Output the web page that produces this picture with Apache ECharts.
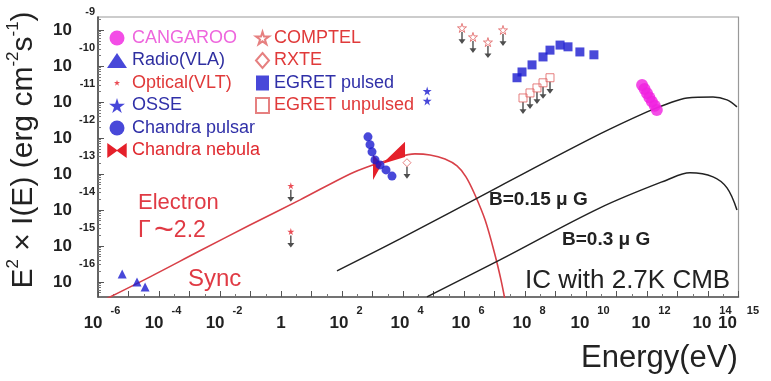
<!DOCTYPE html>
<html>
<head>
<meta charset="utf-8">
<script src="https://cdn.jsdelivr.net/npm/echarts@6/dist/echarts.min.js"></script>
<style>
  html, body { margin: 0; padding: 0; background: #fff; }
  #chart { width: 771px; height: 381px; }
</style>
</head>
<body>
<div id="chart"></div>
<script>
// Photon energy E in eV, flux E^2 x I(E) in erg cm^-2 s^-1
const cangarooE = [6.9e11, 8.3e11, 1.0e12, 1.2e12, 1.45e12, 1.8e12, 2.1e12];
const cangarooF = [2.95e-11, 2.3e-11, 1.74e-11, 1.33e-11, 1.02e-11, 7.8e-12, 6.0e-12];

const radioE = [6.2e-6, 1.9e-5, 3.5e-5];
const radioF = [1.66e-16, 1.0e-16, 7.2e-17];

const opticalE = [2.1, 2.1];
const opticalF = [4.7e-14, 2.5e-15];

const osseE = [6.2e4, 6.2e4];
const osseF = [2.0e-11, 1.07e-11];

const pulsarE = [711, 828, 964, 1208, 1762, 2773, 4355];
const pulsarF = [1.07e-12, 6.5e-13, 4.1e-13, 2.45e-13, 1.78e-13, 1.29e-13, 8.7e-14];

// Chandra nebula power-law bowtie: left edge, pivot, right edge
const nebulaE = [1040, 2040, 11650];
const nebulaUpper = [3.4e-13, 1.9e-13, 7.8e-13];
const nebulaLower = [6.8e-14, 1.9e-13, 2.95e-13];

const comptelE = [8.6e5, 1.97e6, 6.1e6, 1.9e7];
const comptelF = [1.14e-9, 6.4e-10, 4.6e-10, 1.0e-9];

const rxteE = [1.35e4];
const rxteF = [2.05e-13];

const egretPulsedE = [5.47e7, 7.98e7, 1.7e8, 3.9e8, 6.6e8, 1.41e9, 2.57e9, 6.3e9, 1.82e10];
const egretPulsedF = [4.7e-11, 6.8e-11, 1.07e-10, 1.78e-10, 2.75e-10, 3.8e-10, 3.4e-10, 2.45e-10, 2.04e-10];

const egretUnpulsedE = [8.6e7, 1.46e8, 2.47e8, 3.9e8, 6.6e8];
const egretUnpulsedF = [1.29e-11, 1.78e-11, 2.45e-11, 3.4e-11, 4.7e-11];

// Synchrotron model for electrons with index 2.2
const syncE = [1e-6, 5.1e-5, 2.2e-3, 9.6e-2, 4.2, 183, 828, 5470, 2.47e4, 7.7e4, 2.38e5, 5.9e5, 1.16e6, 2.3e6, 4.9e6, 1.04e7, 1.63e7, 2.2e7];
const syncF = [2.6e-17, 1.38e-16, 7.3e-16, 3.8e-15, 1.9e-14, 1.0e-13, 1.67e-13, 2.78e-13, 3.6e-13, 3.37e-13, 2.6e-13, 1.67e-13, 8.3e-14, 2.6e-14, 5.3e-15, 5.6e-16, 1.14e-16, 3.2e-17];

// Inverse Compton on the 2.7K CMB for two field strengths
const ic015E = [68.5, 7980, 1.51e7, 2.88e10, 1.0e12, 4.53e12, 2.05e13, 1.46e14, 4.2e14, 8.9e14];
const ic015F = [2.02e-16, 1.56e-15, 4.6e-14, 1.29e-12, 5.3e-12, 8.8e-12, 1.29e-11, 1.38e-11, 1.14e-11, 7.3e-12];
const ic03E = [6.1e4, 1.51e7, 2.88e10, 4.53e12, 2.57e13, 1.46e14, 4.2e14, 8.9e14];
const ic03F = [3.83e-17, 4.08e-16, 1.14e-14, 6.8e-14, 1.07e-13, 8.3e-14, 4.1e-14, 1.0e-14];

// Axis decades
const xLabelExps = [-6, -4, -2, 0, 2, 4, 6, 8, 10, 12, 14];
const xLastExp = [15];
const xTickExps = [-6, -5, -4, -3, -2, -1, 0, 1, 2, 3, 4, 5, 6, 7, 8, 9, 10, 11, 12, 13, 14, 15];
const yLabelExps = [-16, -15, -14, -13, -12, -11, -10, -9];
const minorMantissas = [2, 3, 4, 5, 6, 7, 8, 9];

const FONT = '"Liberation Sans", Arial, Helvetica, sans-serif';
const RED = '#e5202a';
const BLUE = '#1a1ad0';
const MAGENTA = '#f020e0';

const lg = v => Math.log10(v);
const pts = (E, F) => E.map((e, i) => [lg(e), lg(F[i])]);

// minor ticks: half decades along E, 2..9 steps inside each flux decade
const xMinorTicks = xTickExps.slice(0, -1).map(d => d + 0.5);
const yMinorTicks = [];
[-17, ...yLabelExps].forEach(d => minorMantissas.forEach(m => {
  const v = d + lg(m);
  if (v > -16.42 && v < -8.64) yMinorTicks.push(v);
}));

const STAR = 'path://M50,0 L61,35 L98,35 L68,57 L79,91 L50,70 L21,91 L32,57 L2,35 L39,35 Z';
const SMALLSTAR = 'path://M0,0 L0.1,0 L0,0.1 Z M100,100 L99.9,100 L100,99.9 Z M50,30 L55,44 L70,44 L58,53 L63,68 L50,59 L37,68 L42,53 L30,44 L45,44 Z';
const BOWTIE = 'path://M0,0 L11,8 L22,0 L22,17 L11,9 L0,17 Z';
const ARROW = 'path://M4,0 L6,0 L6,11 L10,11 L5,18 L0,11 L4,11 Z';

const upperLimits = [
  ...pts(opticalE, opticalF),
  ...pts(comptelE, comptelF),
  ...pts(egretUnpulsedE, egretUnpulsedF),
  ...pts(rxteE, rxteF)
];

const chart = echarts.init(document.getElementById('chart'), null, { renderer: 'canvas' });

const legendText = { fontSize: 18, fontFamily: FONT, lineHeight: 18 };

const tickFont = { fontWeight: 'bold', fontFamily: FONT, color: '#222' };
const xRich = (gap) => ({
  b: Object.assign({ fontSize: 17, lineHeight: 36 }, tickFont),
  one: Object.assign({ fontSize: 17, lineHeight: 36, padding: [0, 8, 0, 0] }, tickFont),
  e: Object.assign({ fontSize: 11, lineHeight: 12, verticalAlign: 'top', padding: [0, 0, 0, gap] }, tickFont)
});
const xFormatter = v => (v === 0 ? '{one|1}' : '{b|10}{e|' + v + '}');

const bareAxis = { axisLine: { show: false, onZero: false }, splitLine: { show: false }, axisLabel: { show: false } };

const option = {
  animation: false,
  backgroundColor: '#fff',
  grid: { left: 98, right: 32.5, top: 17, bottom: 84, show: true, borderColor: '#999', borderWidth: 1.2 },
  xAxis: [
    {
      type: 'value', min: -6, max: 15, interval: 1,
      axisLine: { show: true, onZero: false, lineStyle: { color: '#555', width: 1.5 } },
      axisTick: { show: true, inside: true, length: 6, customValues: xTickExps, lineStyle: { color: '#555' } },
      splitLine: { show: false },
      axisLabel: {
        margin: 8, padding: [0, 0, 0, 8],
        customValues: xLabelExps,
        formatter: xFormatter,
        rich: xRich(8)
      }
    },
    {
      type: 'value', min: -6, max: 15, position: 'bottom', offset: 0,
      axisLine: { show: false, onZero: false }, axisTick: { show: false }, splitLine: { show: false },
      axisLabel: {
        margin: 8,
        customValues: xLastExp,
        formatter: xFormatter,
        rich: xRich(10)
      }
    },
    Object.assign({
      type: 'value', min: -6, max: 15, position: 'bottom', offset: 0,
      axisTick: { show: true, inside: true, length: 3, customValues: xMinorTicks, lineStyle: { color: '#777' } }
    }, bareAxis)
  ],
  yAxis: [
    {
      type: 'value', min: -16.42, max: -8.64,
      axisLine: { show: true, onZero: false, lineStyle: { color: '#444', width: 1.5 } },
      axisTick: { show: true, inside: true, length: 6, customValues: yLabelExps, lineStyle: { color: '#555' } },
      splitLine: { show: false },
      axisLabel: {
        margin: 3,
        customValues: yLabelExps,
        formatter: v => '{b|10}{e|' + v + '}',
        rich: {
          b: Object.assign({ fontSize: 17, lineHeight: 46, width: 20, align: 'left' }, tickFont),
          e: Object.assign({ fontSize: 11, lineHeight: 12, verticalAlign: 'top', width: 22, align: 'right' }, tickFont)
        }
      }
    },
    Object.assign({
      type: 'value', min: -16.42, max: -8.64, position: 'left', offset: 0,
      axisTick: { show: true, inside: true, length: 3, customValues: yMinorTicks, lineStyle: { color: '#777' } }
    }, bareAxis)
  ],
  legend: [
    {
      left: 102, top: 24, orient: 'vertical', itemGap: 4.5, itemWidth: 20, itemHeight: 15,
      selectedMode: false, textStyle: legendText,
      data: [
        { name: 'CANGAROO', icon: 'circle', textStyle: { color: '#ee66dd' } },
        { name: 'Radio(VLA)', icon: 'triangle', textStyle: { color: '#2f2fa0' } },
        { name: 'Optical(VLT)', icon: SMALLSTAR, textStyle: { color: '#e03a3a' } },
        { name: 'OSSE', icon: STAR, textStyle: { color: '#3030a8' } },
        { name: 'Chandra pulsar', icon: 'circle', textStyle: { color: '#3030a8' } },
        { name: 'Chandra nebula', icon: BOWTIE, textStyle: { color: '#e02a30' } }
      ]
    },
    {
      left: 250, top: 24, orient: 'vertical', itemGap: 4.5, itemWidth: 13, itemHeight: 15,
      selectedMode: false, textStyle: legendText,
      data: [
        { name: 'COMPTEL', icon: STAR, textStyle: { color: '#e03a3a' } },
        { name: 'RXTE', icon: 'diamond', textStyle: { color: '#e03a3a' } },
        { name: 'EGRET pulsed', icon: 'rect', textStyle: { color: '#3030a8' } },
        { name: 'EGRET unpulsed', icon: 'rect', textStyle: { color: '#e03a3a' } }
      ]
    }
  ],
  series: [
    {
      name: 'Sync', type: 'line', data: pts(syncE, syncF), symbol: 'none',
      smooth: 0.35, lineStyle: { color: '#d84048', width: 1.6 }, clip: true, z: 2
    },
    {
      name: 'IC 0.15', type: 'line', data: pts(ic015E, ic015F), symbol: 'none',
      smooth: 0.35, lineStyle: { color: '#222', width: 1.5 }, clip: true, z: 2
    },
    {
      name: 'IC 0.3', type: 'line', data: pts(ic03E, ic03F), symbol: 'none',
      smooth: 0.35, lineStyle: { color: '#222', width: 1.5 }, clip: true, z: 2
    },
    {
      name: 'upper limits', type: 'scatter', data: upperLimits, symbol: ARROW,
      symbolSize: [7, 12], symbolOffset: [0, 10], itemStyle: { color: '#222' }, z: 3
    },
    {
      name: 'CANGAROO', type: 'scatter', data: pts(cangarooE, cangarooF), symbol: 'circle',
      symbolSize: 12, itemStyle: { color: MAGENTA }, z: 5
    },
    {
      name: 'Radio(VLA)', type: 'scatter', data: pts(radioE, radioF), symbol: 'triangle',
      symbolSize: 9, itemStyle: { color: BLUE }, z: 5
    },
    {
      name: 'Optical(VLT)', type: 'scatter', data: pts(opticalE, opticalF), symbol: STAR,
      symbolSize: 7, itemStyle: { color: RED }, z: 5
    },
    {
      name: 'OSSE', type: 'scatter', data: pts(osseE, osseF), symbol: STAR,
      symbolSize: 9, itemStyle: { color: BLUE }, z: 5
    },
    {
      name: 'Chandra pulsar', type: 'scatter', data: pts(pulsarE, pulsarF), symbol: 'circle',
      symbolSize: 9, itemStyle: { color: BLUE }, z: 6
    },
    {
      name: 'Chandra nebula', type: 'custom', itemStyle: { color: RED }, z: 5,
      data: [[lg(nebulaE[0]), lg(nebulaE[1]), lg(nebulaE[2]),
              lg(nebulaUpper[0]), lg(nebulaUpper[1]), lg(nebulaUpper[2]),
              lg(nebulaLower[0]), lg(nebulaLower[2])]],
      renderItem: (params, api) => {
        const c = (x, y) => api.coord([x, y]);
        const e0 = api.value(0), e1 = api.value(1), e2 = api.value(2);
        const poly = [
          c(e0, api.value(3)), c(e1, api.value(4)), c(e2, api.value(5)),
          c(e2, api.value(7)), c(e1, api.value(4)), c(e0, api.value(6))
        ];
        return { type: 'polygon', shape: { points: poly }, style: { fill: RED } };
      }
    },
    {
      name: 'COMPTEL', type: 'scatter', data: pts(comptelE, comptelF), symbol: STAR,
      symbolSize: 9, itemStyle: { color: 'rgba(255,255,255,0)', borderColor: '#e06060', borderWidth: 1 }, z: 5
    },
    {
      name: 'RXTE', type: 'scatter', data: pts(rxteE, rxteF), symbol: 'diamond',
      symbolSize: 8, itemStyle: { color: 'rgba(255,255,255,0)', borderColor: '#e06060', borderWidth: 1 }, z: 5
    },
    {
      name: 'EGRET pulsed', type: 'scatter', data: pts(egretPulsedE, egretPulsedF), symbol: 'rect',
      symbolSize: 9, itemStyle: { color: BLUE }, z: 5
    },
    {
      name: 'EGRET unpulsed', type: 'scatter', data: pts(egretUnpulsedE, egretUnpulsedF), symbol: 'rect',
      symbolSize: 8, itemStyle: { color: 'rgba(255,255,255,0)', borderColor: '#e06060', borderWidth: 1 }, z: 5
    }
  ],
  graphic: [
    {
      type: 'text', x: 24, y: 150, rotation: Math.PI / 2,
      style: {
        text: '{n|E}{s|2}{n| × I(E) (erg cm}{s|-2}{n|s}{s|-1}{n|)}',
        align: 'center', verticalAlign: 'middle',
        rich: {
          n: { fontSize: 30, fontFamily: FONT, fill: '#222', lineHeight: 38 },
          s: { fontSize: 17, fontFamily: FONT, fill: '#222', lineHeight: 18, verticalAlign: 'top' }
        }
      }
    },
    { type: 'text', x: 581, y: 358, style: { text: 'Energy(eV)', font: '31px ' + FONT, fill: '#222', verticalAlign: 'middle' } },
    { type: 'text', x: 138, y: 203, style: { text: 'Electron', font: '22px ' + FONT, fill: '#e03a44', verticalAlign: 'middle' } },
    {
      type: 'text', x: 138, y: 231,
      style: {
        text: '{a|Γ} {t|~}{a|2.2}', verticalAlign: 'middle',
        rich: {
          a: { fontSize: 23, fontFamily: FONT, fill: '#e03a44' },
          t: { fontSize: 34, fontFamily: FONT, fill: '#e03a44' }
        }
      }
    },
    { type: 'text', x: 188, y: 279, style: { text: 'Sync', font: '24px ' + FONT, fill: '#e03a44', verticalAlign: 'middle' } },
    { type: 'text', x: 489, y: 200, style: { text: 'B=0.15 μ G', font: 'bold 19px ' + FONT, fill: '#222', verticalAlign: 'middle' } },
    { type: 'text', x: 562, y: 240, style: { text: 'B=0.3 μ G', font: 'bold 19px ' + FONT, fill: '#222', verticalAlign: 'middle' } },
    { type: 'text', x: 525, y: 281, style: { text: 'IC with 2.7K CMB', font: '26px ' + FONT, fill: '#222', verticalAlign: 'middle' } }
  ]
};

chart.setOption(option);
</script>
</body>
</html>
